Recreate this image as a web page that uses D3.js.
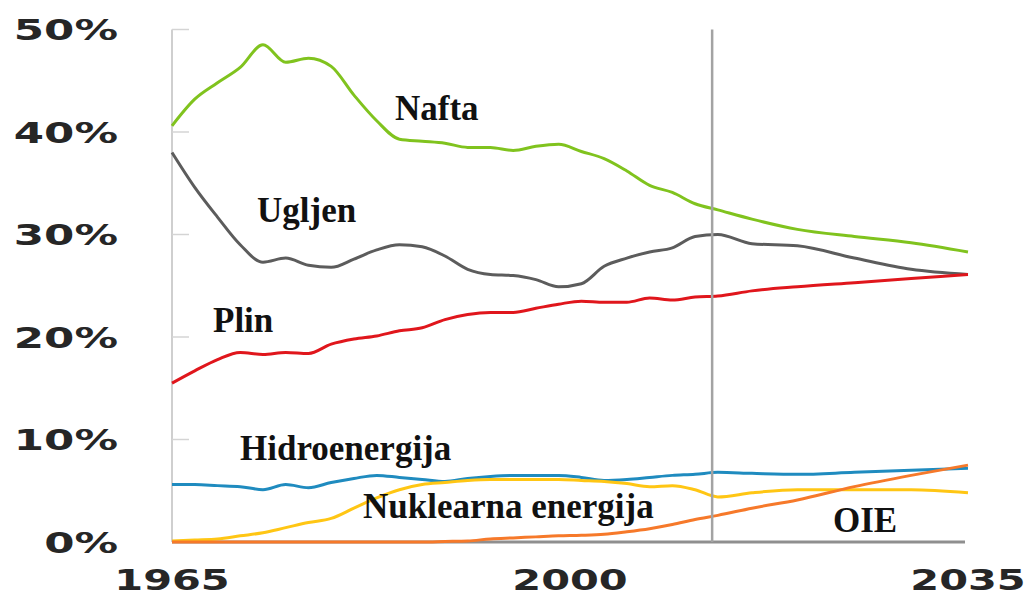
<!DOCTYPE html>
<html>
<head>
<meta charset="utf-8">
<script src="https://cdn.jsdelivr.net/npm/d3@7"></script>
<style>
  html, body { margin: 0; padding: 0; background: #fff; }
  svg { display: block; }
</style>
</head>
<body>
<svg width="1029" height="596"></svg>
<script>
const years = [1965, 1967, 1969, 1971, 1973, 1975, 1977, 1979, 1981, 1983, 1985, 1987, 1989,
  1991, 1993, 1995, 1997, 1999, 2001, 2003, 2005, 2007, 2009, 2011, 2013, 2016, 2020, 2025, 2030, 2035];

const nafta = [40.6, 43.2, 44.8, 46.3, 48.5, 46.8, 47.2, 46.4, 43.6, 41.1, 39.3, 39.1, 38.9,
  38.5, 38.5, 38.2, 38.6, 38.8, 38.1, 37.4, 36.2, 34.8, 34.1, 33.0, 32.4, 31.5, 30.5, 29.8, 29.2, 28.3];
const ugljen = [38.0, 34.6, 31.7, 29.0, 27.3, 27.7, 27.0, 26.8, 27.6, 28.5, 29.0, 28.8, 27.9,
  26.6, 26.1, 26.0, 25.6, 24.9, 25.2, 26.9, 27.7, 28.3, 28.7, 29.8, 30.0, 29.1, 28.9, 27.7, 26.6, 26.1];
const plin = [15.5, 16.7, 17.8, 18.5, 18.3, 18.5, 18.4, 19.3, 19.8, 20.1, 20.6, 20.9, 21.7,
  22.2, 22.4, 22.4, 22.8, 23.2, 23.5, 23.4, 23.4, 23.8, 23.6, 23.9, 24.0, 24.5, 24.9, 25.3, 25.7, 26.1];
const hidro = [5.6, 5.6, 5.5, 5.4, 5.1, 5.6, 5.3, 5.8, 6.2, 6.5, 6.3, 6.1, 5.9,
  6.2, 6.4, 6.5, 6.5, 6.5, 6.3, 6.0, 6.1, 6.3, 6.5, 6.6, 6.8, 6.7, 6.6, 6.8, 7.0, 7.2];
const nuklearna = [0.1, 0.2, 0.3, 0.6, 0.9, 1.4, 1.9, 2.3, 3.3, 4.3, 5.1, 5.6, 5.8,
  6.0, 6.1, 6.1, 6.1, 6.1, 6.0, 5.9, 5.7, 5.4, 5.5, 5.1, 4.4, 4.8, 5.1, 5.1, 5.1, 4.8];
const oie = [0, 0, 0, 0, 0, 0, 0, 0, 0, 0, 0, 0, 0.05,
  0.1, 0.3, 0.4, 0.5, 0.6, 0.65, 0.75, 1.0, 1.3, 1.7, 2.2, 2.6, 3.3, 4.1, 5.4, 6.5, 7.5];

const yTicks = [0, 10, 20, 30, 40, 50];
const xTicks = [1965, 2000, 2035];
const projectionYear = 2012.5;

const series = [
  { name: "Nafta", values: nafta, color: "#80c31e", label: [395, 120] },
  { name: "Ugljen", values: ugljen, color: "#5c5c5c", label: [257, 222] },
  { name: "Plin", values: plin, color: "#e0161c", label: [213, 332] },
  { name: "Hidroenergija", values: hidro, color: "#1f8bbf", label: [240, 460] },
  { name: "Nuklearna energija", values: nuklearna, color: "#ffc614", label: [363, 518] },
  { name: "OIE", values: oie, color: "#f6792a", label: [833, 532] }
];

const svg = d3.select("svg");

const x = d3.scaleLinear().domain([1965, 2035]).range([172, 968]);
const y = d3.scaleLinear().domain([0, 50]).range([542, 29.5]);

// lijeva os
svg.append("line")
  .attr("x1", x(1965)).attr("x2", x(1965))
  .attr("y1", y(50)).attr("y2", y(0))
  .attr("stroke", "#cfcfcf").attr("stroke-width", 2);

svg.selectAll(".ytick")
  .data(yTicks.filter(d => d > 0))
  .join("line")
  .attr("x1", x(1965)).attr("x2", x(1965) + 17)
  .attr("y1", d => y(d)).attr("y2", d => y(d))
  .attr("stroke", "#d4d4d4").attr("stroke-width", 1.5);

// donja os
svg.append("line")
  .attr("x1", x(1965)).attr("x2", 965)
  .attr("y1", y(0)).attr("y2", y(0))
  .attr("stroke", "#8f8f8f").attr("stroke-width", 3);

// oznake osi
const yLab = svg.selectAll(".ylab")
  .data(yTicks)
  .join("text")
  .attr("x", 118)
  .attr("y", d => y(d) + 10.5)
  .attr("text-anchor", "end")
  .attr("font-family", "DejaVu Sans")
  .attr("font-weight", "bold")
  .attr("font-size", 29)
  .attr("fill", "#262626")
  .text(d => d + "%");

const xLab = svg.selectAll(".xlab")
  .data(xTicks)
  .join("text")
  .attr("x", d => x(d))
  .attr("y", 590)
  .attr("text-anchor", "middle")
  .attr("font-family", "DejaVu Sans")
  .attr("font-weight", "bold")
  .attr("font-size", 29)
  .attr("fill", "#262626")
  .text(d => d);

// prošireni font kao na slici
yLab.each(function () {
  const w = this.getComputedTextLength();
  d3.select(this).attr("textLength", w * 1.5).attr("lengthAdjust", "spacingAndGlyphs");
});
xLab.each(function () {
  const w = this.getComputedTextLength();
  d3.select(this).attr("textLength", w * 1.43).attr("lengthAdjust", "spacingAndGlyphs");
});

// linije
const line = d3.line()
  .x((d, i) => x(years[i]))
  .y(d => y(d))
  .curve(d3.curveMonotoneX);

svg.selectAll(".series")
  .data(series)
  .join("path")
  .attr("d", d => line(d.values))
  .attr("fill", "none")
  .attr("stroke", d => d.color)
  .attr("stroke-width", 3)
  .attr("stroke-linejoin", "round");

// granica projekcije
svg.append("line")
  .attr("x1", x(projectionYear)).attr("x2", x(projectionYear))
  .attr("y1", y(50)).attr("y2", y(0))
  .attr("stroke", "#a3a3a3").attr("stroke-width", 2.5);

// nazivi
svg.selectAll(".name")
  .data(series)
  .join("text")
  .attr("x", d => d.label[0])
  .attr("y", d => d.label[1])
  .attr("font-family", "Liberation Serif")
  .attr("font-weight", "bold")
  .attr("font-size", 35)
  .attr("fill", "#111")
  .text(d => d.name);
</script>
</body>
</html>
